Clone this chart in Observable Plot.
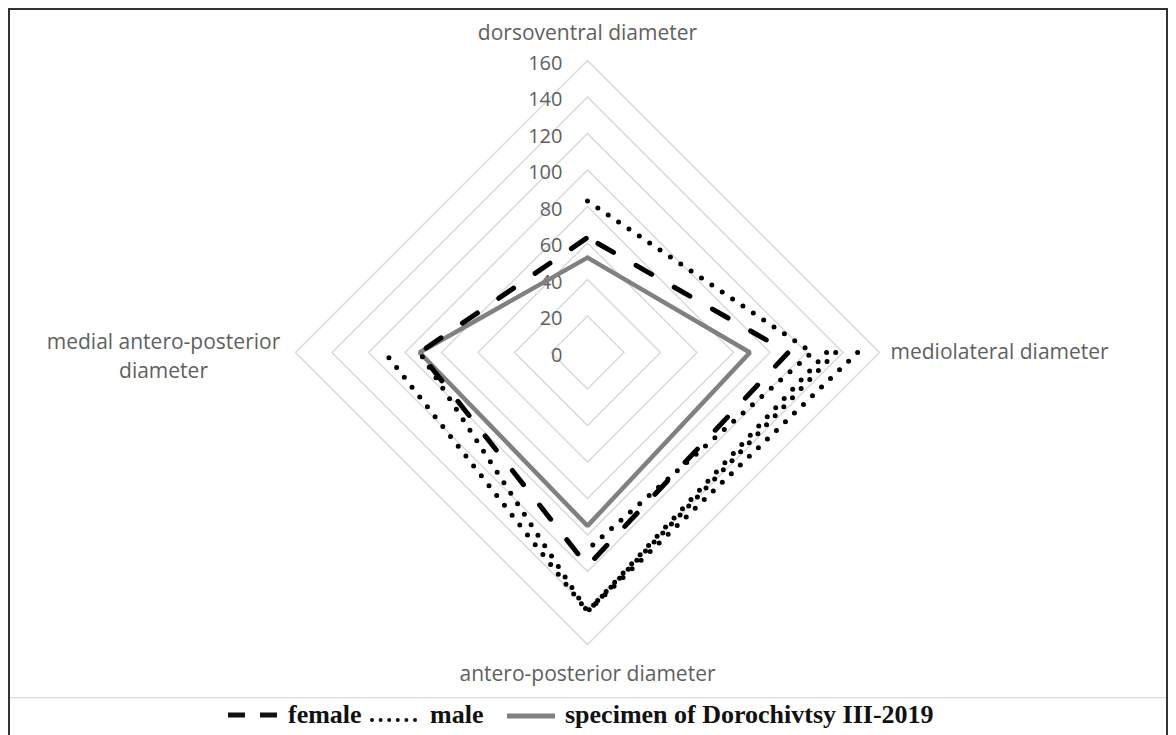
<!DOCTYPE html>
<html><head><meta charset="utf-8">
<script src="https://cdn.jsdelivr.net/npm/d3@7"></script>
<script src="https://cdn.jsdelivr.net/npm/@observablehq/plot@0.6"></script>
<style>
html,body{margin:0;padding:0;background:#fff;}
body{width:1176px;height:735px;position:relative;overflow:hidden;}
#chart{position:absolute;left:0;top:0;}
#legend{position:absolute;left:0;top:697px;}
#frame{position:absolute;left:8px;top:8px;width:1156px;height:760px;border:2px solid #333;pointer-events:none;}
</style></head>
<body>
<div id="chart"></div>
<div id="legend"></div>
<div id="frame"></div>
<script>
// ---- data ----
const axisNames = ["dorsoventral diameter", "mediolateral diameter", "antero-posterior diameter", "medial antero-posterior\ndiameter"];
const tickValues = [0, 20, 40, 60, 80, 100, 120, 140, 160];
const female = [63, 110, 117, 92];
const specimen = [52, 89, 95, 92];
// male profiles (null = not drawn)
const male1 = [83, 123, 108, null];
const male2 = [null, 131, 142, 111];
const male3 = [null, 136, 142, 92];
const male4 = [null, 148, 142, null];
const legendLabels = ["female", "male", "specimen of Dorochivtsy III-2019"];

// ---- helpers ----
const angle = i => i * Math.PI / 2;
function toPoints(name, vals, closed) {
  const idx = closed ? [0, 1, 2, 3, 0] : [0, 1, 2, 3];
  return idx.map((i, k) => {
    const v = vals[i];
    return {series: name, k,
      x: v == null ? NaN : v * Math.sin(angle(i)),
      y: v == null ? NaN : v * Math.cos(angle(i))};
  });
}
const gridPts = tickValues.filter(t => t > 0).flatMap(t => toPoints("g" + t, [t, t, t, t], true));
const femalePts = toPoints("female", female, true);
const specimenPts = toPoints("specimen", specimen, true);
const malePts = [male1, male2, male3, male4].flatMap((m, j) => toPoints("male" + j, m, false));
const rMax = d3.max(tickValues);

const labelColor = "#5f5f5f";
const plot = Plot.plot({
  width: 1176, height: 697,
  marginLeft: 295, marginRight: 297, marginTop: 60, marginBottom: 53,
  x: {domain: [-rMax, rMax], axis: null},
  y: {domain: [-rMax, rMax], axis: null},
  style: {fontFamily: "'Open Sans', sans-serif", background: "transparent"},
  marks: [
    Plot.line(gridPts, {x: "x", y: "y", z: "series", stroke: "#d9d9d9", strokeWidth: 1.5}),
    Plot.text(tickValues, {x: () => 0, y: d => d, text: d => String(d), textAnchor: "end", dx: -25, dy: 3, fill: labelColor, fontSize: 20}),
    Plot.line(specimenPts, {x: "x", y: "y", stroke: "#808080", strokeWidth: 4.5, strokeLinejoin: "miter"}),
    Plot.line(femalePts, {x: "x", y: "y", stroke: "#000", strokeWidth: 5, strokeDasharray: "18,26", strokeDashoffset: 32, strokeLinecap: "round"}),
    Plot.line(malePts, {x: "x", y: "y", z: "series", stroke: "#000", strokeWidth: 5, strokeDasharray: "0,12.5", strokeLinecap: "round"}),
    Plot.text([axisNames[0]], {x: () => 0, y: () => rMax, text: d => d, textAnchor: "middle", dy: -27, fill: labelColor, fontSize: 21}),
    Plot.text([axisNames[1]], {x: () => rMax, y: () => 0, text: d => d, textAnchor: "start", dx: 11, fill: labelColor, fontSize: 21}),
    Plot.text([axisNames[2]], {x: () => 0, y: () => -rMax, text: d => d, textAnchor: "middle", dy: 30, fill: labelColor, fontSize: 21}),
    Plot.text([axisNames[3]], {x: () => -rMax, y: () => 0, text: d => d, textAnchor: "middle", dx: -132, dy: 2, lineHeight: 1.35, fill: labelColor, fontSize: 21})
  ]
});
document.getElementById("chart").appendChild(plot);

// ---- legend ----
const lg = d3.select("#legend").append("svg").attr("width", 1176).attr("height", 38);
lg.append("line").attr("x1", 10).attr("x2", 1166).attr("y1", 0.5).attr("y2", 0.5).attr("stroke", "#dcdcdc").attr("stroke-width", 1.5);
const font = "'Liberation Serif','Times New Roman',serif";
lg.append("line").attr("x1", 228).attr("x2", 278).attr("y1", 18).attr("y2", 18)
  .attr("stroke", "#111").attr("stroke-width", 5).attr("stroke-dasharray", "17,15");
lg.append("text").attr("x", 288).attr("y", 26).text(legendLabels[0]);
lg.append("line").attr("x1", 372).attr("x2", 420).attr("y1", 23).attr("y2", 23)
  .attr("stroke", "#111").attr("stroke-width", 4).attr("stroke-linecap", "round").attr("stroke-dasharray", "0,8.6");
lg.append("text").attr("x", 430).attr("y", 26).text(legendLabels[1]);
lg.append("line").attr("x1", 507).attr("x2", 555).attr("y1", 19).attr("y2", 19)
  .attr("stroke", "#808080").attr("stroke-width", 5);
lg.append("text").attr("x", 565).attr("y", 26).text(legendLabels[2]);
lg.selectAll("text").attr("font-family", font).attr("font-weight", "bold").attr("font-size", 26).attr("fill", "#111");
</script>
</body></html>
